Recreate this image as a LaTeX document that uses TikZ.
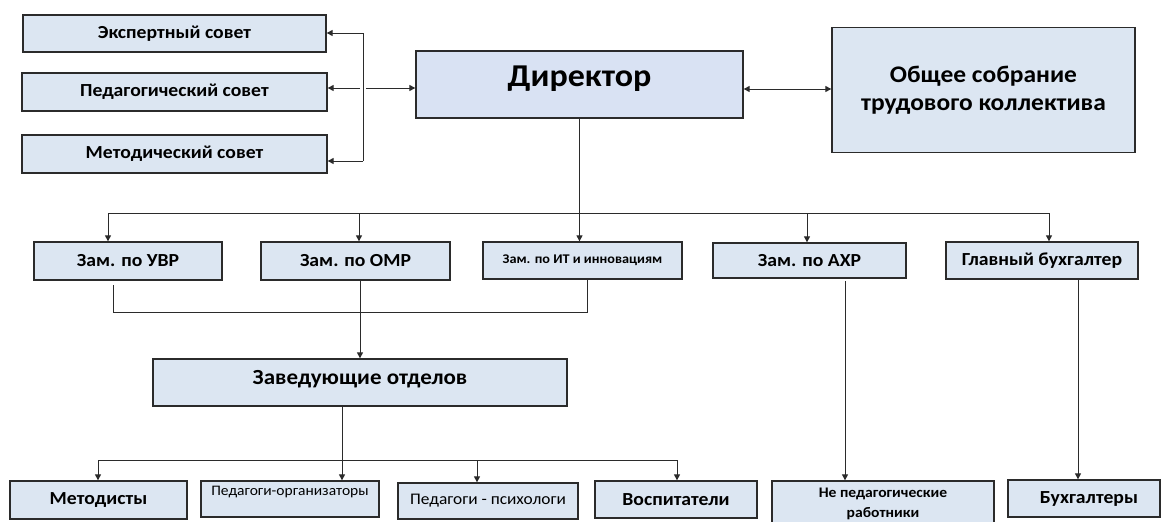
\documentclass[tikz,border=0pt]{standalone}
\usepackage{fontspec}
\setmainfont{Carlito}[FakeStretch=1.07]
\usetikzlibrary{arrows.meta,calc}
\definecolor{boxfill}{HTML}{DCE6F2}
\definecolor{dirfill}{HTML}{D9E2F3}
\definecolor{edge}{HTML}{2B2B2B}
\tikzset{
  orgbox/.style={draw=edge, line width=1.3pt, fill=boxfill, inner sep=0pt, align=center},
  conn/.style={draw=edge, line width=1pt},
  arr/.style={conn, -{Triangle[length=6pt,width=6pt]}},
  biarr/.style={conn, {Triangle[length=6pt,width=6pt]}-{Triangle[length=6pt,width=6pt]}},
  mainlbl/.style={font=\fontsize{18.4}{21}\selectfont\bfseries},
}
% box from corner (x1,y1) to (x2,y2), in pixels
\newcommand{\orgnode}[7][]{%
  \node[orgbox, minimum width={#4-#2}, minimum height={#5-#3}, #1] (#6) at ({(#2+#4)/2},{(#3+#5)/2}) {#7};}
\begin{document}
\begin{tikzpicture}[x=1pt,y=-1pt]
\clip (0,0) rectangle (1162,522);
\useasboundingbox (0,0) rectangle (1162,522);
% councils
\orgnode[mainlbl]{23}{15}{326}{52}{exp}{Экспертный совет}
\orgnode[mainlbl]{22}{73}{327}{111}{ped}{Педагогический совет}
\orgnode[mainlbl]{22}{135}{327}{173}{met}{Методический совет}
% director
\orgnode[fill=dirfill, label={[font=\fontsize{31.8}{36}\selectfont\bfseries, yshift=6pt]center:Директор}]{416}{51}{743}{118}{dir}{}
% general meeting
\orgnode[font=\fontsize{23.8}{28}\selectfont\bfseries, yshift=2.5pt]{832}{30}{1135}{155}{obs}{Общее собрание\\трудового коллектива}
% deputies
\orgnode[mainlbl]{34}{242}{222}{280}{uvr}{Зам. по УВР}
\orgnode[mainlbl]{261}{242}{450}{280}{omr}{Зам. по ОМР}
\orgnode[font=\fontsize{13.3}{16}\selectfont\bfseries]{483}{242}{682}{279}{it}{Зам. по ИТ и инновациям}
\orgnode[mainlbl]{713}{243}{906}{278}{ahr}{Зам. по АХР}
\orgnode[mainlbl]{946}{242}{1138}{279}{gb}{Главный бухгалтер}
% heads of departments
\orgnode[label={[font=\fontsize{21.5}{24}\selectfont\bfseries, yshift=3.5pt]center:Заведующие отделов}]{153}{359}{567}{406}{zav}{}
% bottom row
\orgnode[mainlbl]{10}{481}{187}{519}{metod}{Методисты}
\orgnode[label={[font=\fontsize{14.5}{18}\selectfont, yshift=7pt]center:Педагоги-организаторы}]{201}{481}{379}{517}{porg}{}
\orgnode[font=\fontsize{16.2}{19}\selectfont]{398}{483}{578}{519}{psy}{Педагоги - психологи}
\orgnode[mainlbl]{595}{481}{757}{518}{vos}{Воспитатели}
\orgnode[label={[font=\fontsize{14.6}{20}\selectfont\bfseries, align=center, anchor=north, yshift=-4pt]north:Не педагогические\\работники}]{772}{481}{994}{535}{nped}{}
\orgnode[label={[mainlbl, xshift=5pt]center:Бухгалтеры}]{1008}{480}{1160}{517}{buh}{}
% councils bracket
\coordinate (bt) at (363,33);
\coordinate (bb) at (363,161);
\coordinate (bm) at (360,88);
\coordinate (bd) at (366,88);
\draw[conn] (bt) -- (bb);
\draw[arr] (bt) -- (bt -| exp.east);
\draw[arr] (bm) -- (bm -| ped.east);
\draw[arr] (bb) -- (bb -| met.east);
\draw[arr] (bd) -- (bd -| dir.west);
% director <-> general meeting
\coordinate (dm) at (790,89);
\draw[biarr] (dm -| dir.east) -- (dm -| obs.west);
% top bus
\coordinate (b1) at (108,213);
\coordinate (b2) at (359,213);
\coordinate (b4) at (807,213);
\coordinate (b5) at (1049,213);
\draw[conn] (b1) -- (b5);
\draw[arr] (dir.south) -- (dir.south |- it.north);
\draw[arr] (b1) -- (b1 |- uvr.north);
\draw[arr] (b2) -- (b2 |- omr.north);
\draw[arr] (b4) -- (b4 |- ahr.north);
\draw[arr] (b5) -- (b5 |- gb.north);
% collecting line under deputies
\coordinate (c1) at (113,285);
\coordinate (c2) at (113,312);
\coordinate (c3) at (587,312);
\draw[conn] (c1) -- (c2) -- (c3) -- (c3 |- it.south);
\coordinate (o1) at (360,280);
\draw[arr] (o1) -- (o1 |- zav.north);
% heads -> bottom row
\coordinate (z1) at (342,406);
\draw[arr] (z1) -- (z1 |- porg.north);
\coordinate (l1) at (98,460);
\coordinate (l2) at (477,460);
\coordinate (l3) at (677,460);
\draw[conn] (l1) -- (l3);
\draw[arr] (l1) -- (l1 |- metod.north);
\draw[arr] (l2) -- (l2 |- psy.north);
\draw[arr] (l3) -- (l3 |- vos.north);
% AHR and chief accountant
\coordinate (a1) at (845,281);
\draw[arr] (a1) -- (a1 |- nped.north);
\coordinate (g1) at (1078,279);
\draw[arr] (g1) -- (g1 |- buh.north);
\end{tikzpicture}
\end{document}
